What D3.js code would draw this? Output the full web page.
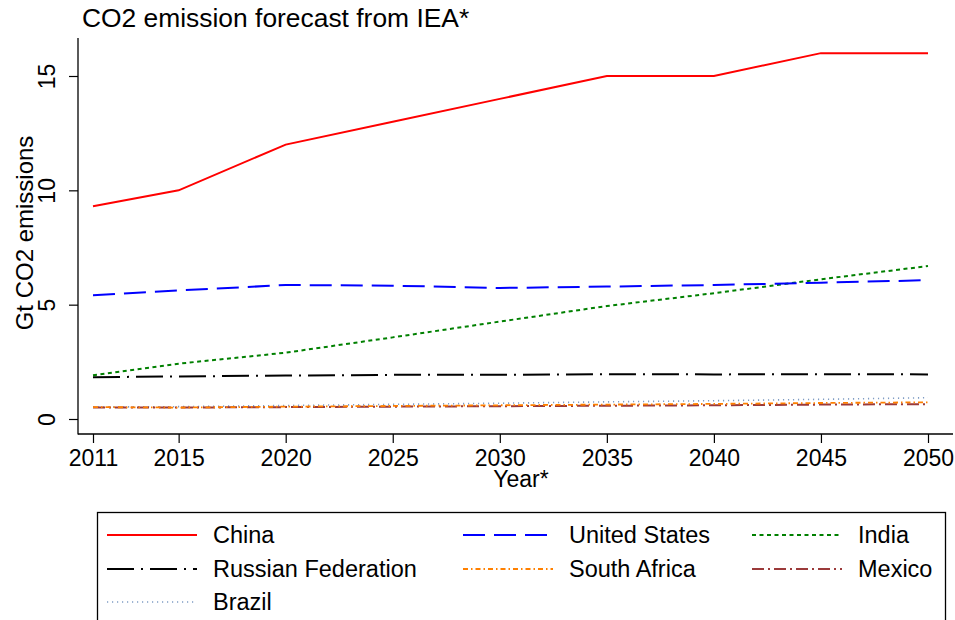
<!DOCTYPE html>
<html lang="en">
<head>
<meta charset="UTF-8">
<title>CO2 emission forecast from IEA*</title>
<script src="https://d3js.org/d3.v7.min.js"></script>
<style>
    body { margin: 0; background: #fff; font-family: 'Liberation Sans', Arial, sans-serif; }
    svg { display: block; }
    text { fill: #000; }
</style>
</head>
<body>
<div id="chart"></div>
<script>
    // data (Gt CO2)
    const years = [2011, 2015, 2020, 2025, 2030, 2035, 2040, 2045, 2050];
    const china = [9.3, 10.0, 12.0, 13.0, 14.0, 15.0, 15.0, 16.0, 16.0];
    const unitedStates = [5.41, 5.62, 5.86, 5.83, 5.73, 5.79, 5.86, 5.96, 6.07];
    const india = [1.91, 2.42, 2.9, 3.57, 4.26, 4.94, 5.5, 6.11, 6.69];
    const russia = [1.83, 1.86, 1.9, 1.93, 1.93, 1.96, 1.95, 1.96, 1.95];
    const southAfrica = [0.52, 0.5, 0.54, 0.57, 0.6, 0.63, 0.66, 0.7, 0.73];
    const mexico = [0.5, 0.5, 0.52, 0.54, 0.56, 0.58, 0.6, 0.63, 0.65];
    const brazil = [0.52, 0.54, 0.59, 0.64, 0.69, 0.75, 0.8, 0.86, 0.93];
    const yTicks = [0, 5, 10, 15];

    const series = [
        { name: 'China', values: china, color: '#ff0000', dash: null, width: 2 },
        { name: 'United States', values: unitedStates, color: '#0000ff', dash: '22,9', width: 2 },
        { name: 'India', values: india, color: '#008000', dash: '4,3.5', width: 2 },
        { name: 'Russian Federation', values: russia, color: '#000000', dash: '27,7,2,7', width: 2 },
        { name: 'South Africa', values: southAfrica, color: '#ff8000', dash: '5,3,1.5,3', width: 1.8 },
        { name: 'Mexico', values: mexico, color: '#9b3a3a', dash: '12,4,2,4', width: 2 },
        { name: 'Brazil', values: brazil, color: '#7f9cc4', dash: '1.2,3.8', width: 1.6 }
    ];

    const width = 955, height = 620;
    const svg = d3.select('#chart').append('svg')
        .attr('width', width)
        .attr('height', height);

    const x = d3.scaleLinear().domain([2011, 2050]).range([93, 928]);
    const y = d3.scaleLinear().domain([0, 15]).range([419, 76]);

    const axisX0 = 78, axisY0 = 434;

    // title
    svg.append('text')
        .attr('x', 82)
        .attr('y', 27)
        .style('font-size', '26.4px')
        .text('CO2 emission forecast from IEA*');

    // axis lines
    svg.append('line')
        .attr('x1', axisX0).attr('x2', axisX0)
        .attr('y1', 38).attr('y2', axisY0 + 0.5)
        .attr('stroke', '#000').attr('stroke-width', 1.3);
    svg.append('line')
        .attr('x1', axisX0).attr('x2', 953)
        .attr('y1', axisY0).attr('y2', axisY0)
        .attr('stroke', '#000').attr('stroke-width', 1.3);

    // y axis
    const yAxis = svg.append('g')
        .attr('transform', `translate(${axisX0},0)`)
        .call(d3.axisLeft(y).tickValues(yTicks).tickSize(9).tickFormat(d3.format('d')));
    yAxis.select('.domain').remove();
    yAxis.selectAll('.tick line').attr('stroke', '#000').attr('stroke-width', 1.2);
    yAxis.selectAll('.tick text')
        .attr('x', 0).attr('dy', 0)
        .attr('transform', 'translate(-23,0) rotate(-90)')
        .attr('text-anchor', 'middle')
        .style('font-size', '23px')
        .style('font-family', "'Liberation Sans', Arial, sans-serif");

    // x axis
    const xAxis = svg.append('g')
        .attr('transform', `translate(0,${axisY0})`)
        .call(d3.axisBottom(x).tickValues(years).tickSize(9).tickFormat(d3.format('d')));
    xAxis.select('.domain').remove();
    xAxis.selectAll('.tick line').attr('stroke', '#000').attr('stroke-width', 1.2);
    xAxis.selectAll('.tick text')
        .attr('y', 31.5).attr('dy', 0)
        .style('font-size', '23px')
        .style('font-family', "'Liberation Sans', Arial, sans-serif");

    // axis titles
    svg.append('text')
        .attr('x', 521)
        .attr('y', 487)
        .attr('text-anchor', 'middle')
        .style('font-size', '23px')
        .text('Year*');
    svg.append('text')
        .attr('transform', 'translate(33,233) rotate(-90)')
        .attr('text-anchor', 'middle')
        .style('font-size', '24px')
        .text('Gt CO2 emissions');

    // lines, drawn bottom-up so China sits on top
    const line = d3.line()
        .x((d, i) => x(years[i]))
        .y(d => y(d));

    svg.append('g').selectAll('path')
        .data(series.slice().reverse())
        .join('path')
        .attr('d', d => line(d.values))
        .attr('fill', 'none')
        .attr('stroke', d => d.color)
        .attr('stroke-width', d => d.width)
        .attr('stroke-dasharray', d => d.dash);

    // legend
    svg.append('rect')
        .attr('x', 97.5).attr('y', 512.5)
        .attr('width', 848).attr('height', 130)
        .attr('fill', 'none')
        .attr('stroke', '#000')
        .attr('stroke-width', 1.3);

    const colX = [107, 463, 752];
    const rowY = [535, 569, 602];

    const legend = svg.selectAll('.legend')
        .data(series)
        .join('g')
        .attr('class', 'legend')
        .attr('transform', (d, i) => `translate(${colX[i % 3]},${rowY[Math.floor(i / 3)]})`);

    legend.append('line')
        .attr('x1', 0).attr('x2', 90)
        .attr('y1', 0).attr('y2', 0)
        .attr('stroke', d => d.color)
        .attr('stroke-width', d => d.width)
        .attr('stroke-dasharray', d => d.dash);

    legend.append('text')
        .attr('x', 106)
        .attr('y', 8)
        .style('font-size', '23.5px')
        .text(d => d.name);
</script>
</body>
</html>
